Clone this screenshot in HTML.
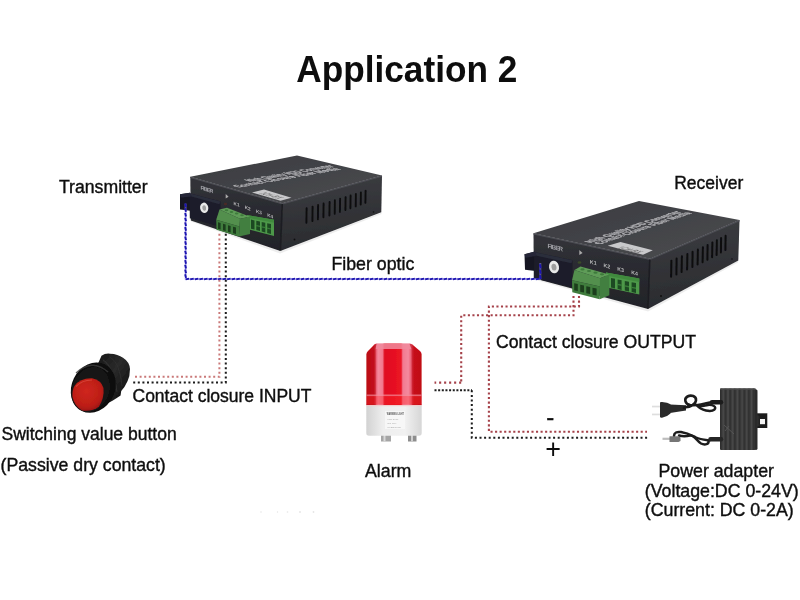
<!DOCTYPE html>
<html lang="en">
<head>
<meta charset="utf-8">
<title>Application 2</title>
<style>
html,body{margin:0;padding:0;background:#fff;}
body{width:800px;height:600px;overflow:hidden;position:relative;font-family:"Liberation Sans",Arial,sans-serif;}
svg{position:absolute;left:0;top:0;display:block;}
text{font-family:"Liberation Sans",Arial,sans-serif;fill:#111;}
.t{font-size:17.75px;stroke:#111;stroke-width:0.4px;}
.h{font-size:37px;font-weight:bold;fill:#0a0a0a;}
</style>
</head>
<body>
<svg width="800" height="600" viewBox="0 0 800 600">
<defs>
<filter id="soft" x="-5%" y="-5%" width="110%" height="110%"><feGaussianBlur stdDeviation="0.75"/></filter>
<filter id="soft2" x="-5%" y="-5%" width="110%" height="110%"><feGaussianBlur stdDeviation="0.45"/></filter>
</defs>
<rect width="800" height="600" fill="#fff"/>


<!-- DEVICE1 -->
<g id="dev1" filter="url(#soft)">
<defs>
<linearGradient id="d1top" x1="0" y1="0" x2="1" y2="1">
<stop offset="0" stop-color="#3a3b3f"/><stop offset="1" stop-color="#4b4c50"/>
</linearGradient>
<linearGradient id="d1right" x1="0" y1="0" x2="0.15" y2="1">
<stop offset="0" stop-color="#3d3e42"/><stop offset="1" stop-color="#2a2b2f"/>
</linearGradient>
<linearGradient id="d1front" x1="0" y1="0" x2="0" y2="1">
<stop offset="0" stop-color="#33343a"/><stop offset="0.45" stop-color="#2a2b30"/><stop offset="1" stop-color="#222328"/>
</linearGradient>
</defs>
<!-- shadow under -->
<polygon points="191,219 280,251 381.5,212.5 381.5,214 280,253.5 191,221.5" fill="#999" opacity=".18"/>
<!-- faces -->
<polygon points="190.3,176.8 297,155.4 382,175.6 282.5,203.2" fill="url(#d1top)"/>
<polygon points="190.3,176.8 282.5,203.2 280.3,251 190.8,220.6" fill="url(#d1front)"/>
<polygon points="282.5,203.2 382,175.6 381.3,212.3 280.3,251" fill="url(#d1right)"/>
<!-- edge highlights -->
<path d="M190.3 177.3 L282.5 203.8 L382 176.2" fill="none" stroke="#4d4e54" stroke-width="1.2"/>
<path d="M282.3 204 L280.4 250.5" fill="none" stroke="#1c1d21" stroke-width="1.6"/>
<!-- top label text -->
<g transform="matrix(0.985,-0.175,0.96,0.277,238.5,187.6)" style="font-size:10px;font-weight:bold" fill="#b0b0b4" stroke="#b0b0b4" stroke-width="0.5">
<text x="20" y="-8.4" style="fill:#b0b0b4" textLength="86" lengthAdjust="spacingAndGlyphs">High Quality HDD Converter</text>
<text x="0" y="0" style="fill:#b0b0b4" textLength="104" lengthAdjust="spacingAndGlyphs">Contact Closure Fiber Media</text>
</g>
<polygon points="252,192.4 264,189.6 291.5,197.7 280.5,200.7" fill="#c9c9cb"/>
<g transform="matrix(0.96,0.277,-0.98,0.2,258.5,193.4)"><text x="0" y="0" style="font-size:10px;font-weight:bold;fill:#777" textLength="20" lengthAdjust="spacingAndGlyphs">1CH-BX</text></g>
<!-- vents -->
<g stroke="#0d0d10" stroke-width="1.9" stroke-linecap="round">
<line x1="306.6" y1="208.2" x2="306.4" y2="222.8"/>
<line x1="312.6" y1="206.6" x2="312.4" y2="221.0"/>
<line x1="318.1" y1="205.0" x2="317.9" y2="219.2"/>
<line x1="323.6" y1="203.5" x2="323.4" y2="217.3"/>
<line x1="329.6" y1="201.9" x2="329.4" y2="215.5"/>
<line x1="334.9" y1="200.3" x2="334.7" y2="213.7"/>
<line x1="340.1" y1="198.7" x2="339.9" y2="211.9"/>
<line x1="345.6" y1="197.1" x2="345.4" y2="210.1"/>
<line x1="350.6" y1="195.5" x2="350.4" y2="208.3"/>
<line x1="355.9" y1="194.0" x2="355.7" y2="206.4"/>
<line x1="360.9" y1="192.4" x2="360.7" y2="204.6"/>
<line x1="365.6" y1="190.8" x2="365.4" y2="202.8"/>
</g>
<circle cx="294.5" cy="239.5" r="0.9" fill="#111"/>
<circle cx="373.5" cy="212" r="0.8" fill="#111"/>
<!-- fiber adapter -->
<polygon points="180,194.3 190,192.8 190.5,210.8 180,209.5" fill="#171824"/>
<polygon points="189.5,193.2 220.5,201.6 220.5,227 189.8,218.2" fill="#1c1d29"/>
<polygon points="189.5,193.2 220.5,201.6 219.5,204.2 191.5,196.6" fill="#2b2d3b"/>
<polygon points="180,194.3 190,192.8 191.5,196.6 181,197.5" fill="#262838"/>
<ellipse cx="204.2" cy="207.8" rx="4.1" ry="5.2" fill="#e9e9e9" transform="rotate(-10 204.2 207.8)"/>
<ellipse cx="204.2" cy="208" rx="1.9" ry="2.7" fill="#9e9e9e" transform="rotate(-10 204.2 208)"/>
<ellipse cx="225.5" cy="204" rx="1.6" ry="1.2" fill="#4a2c27"/>
<!-- front labels -->
<g transform="matrix(0.96,0.28,0,1,200.5,189.6)">
<text x="0" y="0" style="font-size:5.6px;fill:#a4a4aa;font-weight:bold" textLength="13.5">FIBER</text>
</g>
<polygon points="225.7,194 228.6,196.7 225.7,198.6" fill="#aaa"/>
<g transform="matrix(0.96,0.33,0,1,0,0)" style="font-size:4.8px;font-weight:bold">
<text x="243.3" y="124.7" style="font-size:4.8px;fill:#b5b5b8">K1</text>
<text x="255" y="124.7" style="font-size:4.8px;fill:#b5b5b8">K2</text>
<text x="266.7" y="124.7" style="font-size:4.8px;fill:#b5b5b8">K3</text>
<text x="278.4" y="124.7" style="font-size:4.8px;fill:#b5b5b8">K4</text>
</g>
<!-- green socket (rear) -->
<polygon points="247,215 274,219.8 274,236 247,229" fill="#4d9849"/>
<polygon points="247,215 274,219.8 274,222.8 247,217.6" fill="#3f8a3e"/>
<g fill="#1d4a21">
<polygon points="251,219.6 254.5,220.4 254.5,229.6 251,228.7"/>
<polygon points="256.3,220.8 260,221.6 260,231 256.3,230.1"/>
<polygon points="261.7,222 265.3,222.8 265.3,232.4 261.7,231.5"/>
<polygon points="267.2,223.2 271,224 271,233.9 267.2,233"/>
</g>
<g fill="#3f8a3e" opacity=".8">
<polygon points="256.3,225 260,225.8 260,227 256.3,226.2"/>
<polygon points="261.7,226.3 265.3,227.1 265.3,228.3 261.7,227.5"/>
<polygon points="267.2,227.6 271,228.4 271,229.6 267.2,228.8"/>
</g>
<!-- green plug -->
<polygon points="219.5,209.6 227,207.8 250,216.8 240,218.8" fill="#5f9c58"/>
<polygon points="216.2,219.8 219.5,209.6 240,218.8 239.5,226.5" fill="#528f4d"/>
<polygon points="216.2,219.8 239.5,226.5 239,236.6 216.5,229.8" fill="#3f7c3c"/>
<polygon points="240,218.8 250,216.8 250,234 239,236.6" fill="#437f40"/>
<g fill="#1a3d1d">
<polygon points="218,222.3 220.6,223.1 220.6,229.6 218,228.8"/>
<polygon points="223,223.8 225.6,224.6 225.6,231.1 223,230.3"/>
<polygon points="228,225.3 230.6,226.1 230.6,232.6 228,231.8"/>
<polygon points="233,226.8 236,227.6 236,234.1 233,233.3"/>
</g>
<g fill="#3d7a3b">
<ellipse cx="226.5" cy="210.3" rx="1.8" ry="1"/>
<ellipse cx="231.5" cy="211.9" rx="1.8" ry="1"/>
<ellipse cx="236.7" cy="213.5" rx="1.8" ry="1"/>
<ellipse cx="242" cy="215.2" rx="1.8" ry="1"/>
</g>

</g>

<!-- DEVICE2 -->
<g id="dev2" filter="url(#soft)">
<defs>
<linearGradient id="d2top" x1="0" y1="0" x2="1" y2="1">
<stop offset="0" stop-color="#3a3b3f"/><stop offset="1" stop-color="#4b4c50"/>
</linearGradient>
<linearGradient id="d2right" x1="0" y1="0" x2="0.15" y2="1">
<stop offset="0" stop-color="#3d3e42"/><stop offset="1" stop-color="#2a2b2f"/>
</linearGradient>
<linearGradient id="d2front" x1="0" y1="0" x2="0" y2="1">
<stop offset="0" stop-color="#33343a"/><stop offset="0.45" stop-color="#2a2b30"/><stop offset="1" stop-color="#222328"/>
</linearGradient>
</defs>
<polygon points="534,277 648,309 738,260.5 738,262.5 648,311.5 534,279.5" fill="#999" opacity=".18"/>
<!-- faces -->
<polygon points="533.5,233.3 639,201 739.5,220 650,258.8" fill="url(#d2top)"/>
<polygon points="533.5,233.3 650,258.8 648,309 533.8,278.3" fill="url(#d2front)"/>
<polygon points="650,258.8 739.5,220 738.3,260.5 648,309" fill="url(#d2right)"/>
<path d="M533.5 233.8 L650 259.4 L739.5 220.6" fill="none" stroke="#4d4e54" stroke-width="1.2"/>
<path d="M649.8 259.5 L648 308.5" fill="none" stroke="#1c1d21" stroke-width="1.6"/>
<!-- top label text -->
<g transform="matrix(0.948,-0.322,0.977,0.214,600,244.4)" style="font-size:10px;font-weight:bold" fill="#b0b0b4" stroke="#b0b0b4" stroke-width="0.5">
<text x="-1" y="-8.4" style="fill:#b0b0b4" textLength="96" lengthAdjust="spacingAndGlyphs">High Quality HDD Converter</text>
<text x="0" y="0" style="fill:#b0b0b4" textLength="97" lengthAdjust="spacingAndGlyphs">Contact Closure Fiber Media</text>
</g>
<polygon points="607.7,245.8 620.5,242 652.8,250.2 643,254.8" fill="#c9c9cb"/>
<g transform="matrix(0.97,0.246,-0.96,0.285,616,248.2)"><text x="0" y="0" style="font-size:10px;font-weight:bold;fill:#777" textLength="22" lengthAdjust="spacingAndGlyphs">1CH-BX</text></g>
<!-- vents -->
<g stroke="#0d0d10" stroke-width="2" stroke-linecap="round">
<line x1="671.4" y1="260.8" x2="671.1" y2="276.8"/>
<line x1="676.6" y1="258.5" x2="676.4" y2="274.4"/>
<line x1="681.9" y1="256.3" x2="681.6" y2="271.9"/>
<line x1="687.4" y1="254.0" x2="687.1" y2="269.5"/>
<line x1="692.6" y1="251.7" x2="692.4" y2="267.1"/>
<line x1="697.9" y1="249.4" x2="697.6" y2="264.6"/>
<line x1="702.9" y1="247.2" x2="702.6" y2="262.2"/>
<line x1="707.6" y1="244.9" x2="707.4" y2="259.7"/>
<line x1="712.4" y1="242.6" x2="712.1" y2="257.3"/>
<line x1="716.9" y1="240.3" x2="716.6" y2="254.9"/>
<line x1="721.1" y1="238.1" x2="720.9" y2="252.4"/>
<line x1="725.6" y1="235.8" x2="725.4" y2="250.0"/>
</g>
<circle cx="661" cy="296" r="1" fill="#111"/>
<circle cx="732" cy="259" r="0.8" fill="#111"/>
<!-- fiber adapter -->
<polygon points="524.5,254.3 535,251.5 535.5,271 525,269.8" fill="#171824"/>
<polygon points="534,252 572.5,260.3 572.5,287.5 534.3,278.3" fill="#1c1d29"/>
<polygon points="534,252 572.5,260.3 571.5,263.3 536.5,255.8" fill="#2b2d3b"/>
<polygon points="524.5,254.3 535,251.5 536.5,255.8 525.5,257.8" fill="#262838"/>
<ellipse cx="554" cy="267" rx="5" ry="6.3" fill="#e9e9e9" transform="rotate(-10 554 267)"/>
<ellipse cx="554" cy="267.2" rx="2.5" ry="3.4" fill="#9e9e9e" transform="rotate(-10 554 267.2)"/>
<ellipse cx="579.5" cy="262.5" rx="1.8" ry="1.3" fill="#3a4a2a"/>
<!-- front labels -->
<g transform="matrix(0.975,0.22,0,1,547.5,248)">
<text x="0" y="0" style="font-size:6.4px;fill:#a4a4aa;font-weight:bold" textLength="16">FIBER</text>
</g>
<polygon points="579.3,250 582.6,253 579.3,255" fill="#aaa"/>
<g transform="matrix(0.975,0.25,0,1,0,0)" style="font-weight:bold">
<text x="605" y="112.2" style="font-size:5.4px;fill:#b5b5b8">K1</text>
<text x="619" y="112.2" style="font-size:5.4px;fill:#b5b5b8">K2</text>
<text x="633" y="112.2" style="font-size:5.4px;fill:#b5b5b8">K3</text>
<text x="647.5" y="112.2" style="font-size:5.4px;fill:#b5b5b8">K4</text>
</g>
<!-- green socket (rear) -->
<polygon points="606,272.6 639.3,278.6 639.3,294.4 606,287.2" fill="#4d9849"/>
<polygon points="606,272.6 639.3,278.6 639.3,282 606,275.4" fill="#3f8a3e"/>
<g fill="#1d4a21">
<polygon points="611,278 615,278.8 615,288.4 611,287.5"/>
<polygon points="617.6,279.4 621.6,280.2 621.6,289.9 617.6,289"/>
<polygon points="624.8,280.9 629,281.7 629,291.5 624.8,290.6"/>
<polygon points="631.6,282.3 636,283.1 636,293 631.6,292.1"/>
</g>
<g fill="#3f8a3e" opacity=".8">
<polygon points="617.6,283.8 621.6,284.6 621.6,285.9 617.6,285.1"/>
<polygon points="624.8,285.3 629,286.1 629,287.4 624.8,286.6"/>
<polygon points="631.6,286.8 636,287.6 636,288.9 631.6,288.1"/>
</g>
<!-- green plug -->
<polygon points="574.5,270 580.5,266.6 609.3,274.5 600,278.2" fill="#5f9c58"/>
<polygon points="572,280.2 574.5,270 600,278.2 600,286.5" fill="#528f4d"/>
<polygon points="572,280.2 600,286.5 599.7,299.2 572.3,292.3" fill="#3f7c3c"/>
<polygon points="600,278.2 609.3,274.5 609.3,295.2 599.7,299.2" fill="#437f40"/>
<g fill="#1a3d1d">
<polygon points="574.2,283.2 577.8,284 577.8,291 574.2,290.2"/>
<polygon points="580.2,284.7 584,285.5 584,292.5 580.2,291.7"/>
<polygon points="586.3,286.2 590.2,287 590.2,294 586.3,293.2"/>
<polygon points="592.5,287.7 596.6,288.5 596.6,295.5 592.5,294.7"/>
</g>
<g fill="#3d7a3b">
<ellipse cx="582.5" cy="269.4" rx="2.1" ry="1.1"/>
<ellipse cx="589" cy="271" rx="2.1" ry="1.1"/>
<ellipse cx="595.5" cy="272.7" rx="2.1" ry="1.1"/>
<ellipse cx="602" cy="274.3" rx="2.1" ry="1.1"/>
</g>

</g>

<!-- LINES -->
<g id="lines" fill="none" filter="url(#soft2)">
<g stroke="#8f8be6" stroke-width="2" opacity=".55" stroke-linejoin="round">
<path d="M185.6 203.5 V279 H540.3 V263"/>
</g>
<g stroke="#1f14b0" stroke-width="1.9">
<path d="M185.15 203.50L186.05 207.09M185.15 208.22L186.05 211.81M185.15 212.94L186.05 216.53M185.15 217.66L186.05 221.25M185.15 222.38L186.05 225.97M185.15 227.09L186.05 230.68M185.15 231.81L186.05 235.40M185.15 236.53L186.05 240.12M185.15 241.25L186.05 244.84M185.15 245.97L186.05 249.56M185.15 250.69L186.05 254.28M185.15 255.41L186.05 259.00M185.15 260.12L186.05 263.72M185.15 264.84L186.05 268.43M185.15 269.56L186.05 273.15M185.15 274.28L186.05 277.87M185.60 279.45L189.10 278.55M190.21 279.45L193.71 278.55M194.81 279.45L198.32 278.55M199.42 279.45L202.92 278.55M204.03 279.45L207.53 278.55M208.63 279.45L212.14 278.55M213.24 279.45L216.74 278.55M217.85 279.45L221.35 278.55M222.45 279.45L225.96 278.55M227.06 279.45L230.56 278.55M231.66 279.45L235.17 278.55M236.27 279.45L239.78 278.55M240.88 279.45L244.38 278.55M245.48 279.45L248.99 278.55M250.09 279.45L253.60 278.55M254.70 279.45L258.20 278.55M259.30 279.45L262.81 278.55M263.91 279.45L267.42 278.55M268.52 279.45L272.02 278.55M273.12 279.45L276.63 278.55M277.73 279.45L281.23 278.55M282.34 279.45L285.84 278.55M286.94 279.45L290.45 278.55M291.55 279.45L295.05 278.55M296.16 279.45L299.66 278.55M300.76 279.45L304.27 278.55M305.37 279.45L308.87 278.55M309.98 279.45L313.48 278.55M314.58 279.45L318.09 278.55M319.19 279.45L322.69 278.55M323.79 279.45L327.30 278.55M328.40 279.45L331.91 278.55M333.01 279.45L336.51 278.55M337.61 279.45L341.12 278.55M342.22 279.45L345.73 278.55M346.83 279.45L350.33 278.55M351.43 279.45L354.94 278.55M356.04 279.45L359.55 278.55M360.65 279.45L364.15 278.55M365.25 279.45L368.76 278.55M369.86 279.45L373.36 278.55M374.47 279.45L377.97 278.55M379.07 279.45L382.58 278.55M383.68 279.45L387.18 278.55M388.29 279.45L391.79 278.55M392.89 279.45L396.40 278.55M397.50 279.45L401.00 278.55M402.11 279.45L405.61 278.55M406.71 279.45L410.22 278.55M411.32 279.45L414.82 278.55M415.92 279.45L419.43 278.55M420.53 279.45L424.04 278.55M425.14 279.45L428.64 278.55M429.74 279.45L433.25 278.55M434.35 279.45L437.86 278.55M438.96 279.45L442.46 278.55M443.56 279.45L447.07 278.55M448.17 279.45L451.68 278.55M452.78 279.45L456.28 278.55M457.38 279.45L460.89 278.55M461.99 279.45L465.49 278.55M466.60 279.45L470.10 278.55M471.20 279.45L474.71 278.55M475.81 279.45L479.31 278.55M480.42 279.45L483.92 278.55M485.02 279.45L488.53 278.55M489.63 279.45L493.13 278.55M494.24 279.45L497.74 278.55M498.84 279.45L502.35 278.55M503.45 279.45L506.95 278.55M508.05 279.45L511.56 278.55M512.66 279.45L516.17 278.55M517.27 279.45L520.77 278.55M521.87 279.45L525.38 278.55M526.48 279.45L529.99 278.55M531.09 279.45L534.59 278.55M535.69 279.45L539.20 278.55M540.75 279.00L539.85 274.94M540.75 273.67L539.85 269.61M540.75 268.33L539.85 264.28"/>
</g>
<g stroke="#c46a6a" stroke-width="2" stroke-dasharray="2 2.6" opacity=".9">
<path d="M219.4 233.8 V376.8 H132.5"/>
</g>
<g stroke="#a5424a" stroke-width="2.1" stroke-dasharray="2.1 2.45">
<path d="M579 296 V306.5 H488.9 V431.8 H647"/>
<path d="M573.5 296 V315.3 H461.2 V382.6"/>
</g>
<g stroke="#a5424a" stroke-width="2.1" stroke-dasharray="2.1 2.9">
<path d="M461.2 382.6 H434.5"/>
</g>
<g stroke="#1a1a1a" stroke-width="2" stroke-dasharray="2 2.6">
<path d="M225.8 233.8 V382.4 H132.5"/>
<path d="M471.8 390.3 V437.8 H648"/>
</g>
<g stroke="#1a1a1a" stroke-width="2" stroke-dasharray="2 1.65">
<path d="M434.5 390.3 H472"/>
</g>

</g>

<!-- BUTTON -->
<g id="button" filter="url(#soft)">
<defs>
<radialGradient id="bred" cx="0.45" cy="0.4" r="0.65">
<stop offset="0" stop-color="#cf261d"/><stop offset="0.7" stop-color="#bd1e17"/><stop offset="1" stop-color="#96140f"/>
</radialGradient>
<linearGradient id="bbody" x1="0" y1="0" x2="1" y2="1">
<stop offset="0" stop-color="#141414"/><stop offset="0.45" stop-color="#2a2a2a"/><stop offset="1" stop-color="#0a0a0a"/>
</linearGradient>
</defs>
<!-- rear barrel -->
<path d="M94 366 L98.5 362.5 L101.5 355.8 Q105 353.2 110 353.7 Q118 354 123 357.8 Q129.5 362 130 369 Q130 376 127.6 381 Q125 387 121.2 391 L120.6 395.5 L116 398.5 L112 401 L106 404 Z" fill="url(#bbody)"/>
<path d="M103 360 Q113 366 117 392" fill="none" stroke="#3a3a3a" stroke-width="1.2" opacity=".6"/>
<path d="M110 357 Q120 363 122 386" fill="none" stroke="#333" stroke-width="1" opacity=".6"/>
<!-- bezel -->
<ellipse cx="93.3" cy="387.6" rx="21.6" ry="26" transform="rotate(26 93.3 387.6)" fill="#0d0d0d"/>
<ellipse cx="90.5" cy="389.5" rx="18.5" ry="23" transform="rotate(24 90.5 389.5)" fill="#181818"/>
<path d="M76 373 Q92 358 108 372" fill="none" stroke="#3b3b3b" stroke-width="1.3" opacity=".8"/>
<!-- red cap -->
<path d="M74.5 386 Q80 378 92 378.3 Q101 380 103.5 388 Q104.5 398 99 406.5 Q92 412 82 410.5 Q74.5 406 72.5 397 Q72 390 74.5 386 Z" fill="url(#bred)"/>
<path d="M76 386.5 Q82 380 92 380" fill="none" stroke="#e2564a" stroke-width="1.2" opacity=".6"/>

</g>

<!-- ALARM -->
<g id="alarm" filter="url(#soft)">
<defs>
<linearGradient id="ared" x1="0" y1="0" x2="1" y2="0">
<stop offset="0" stop-color="#c20e1a"/>
<stop offset="0.13" stop-color="#d4111e"/>
<stop offset="0.17" stop-color="#e8566c"/>
<stop offset="0.21" stop-color="#f48a9e"/>
<stop offset="0.29" stop-color="#f27a90"/>
<stop offset="0.33" stop-color="#e01022"/>
<stop offset="0.5" stop-color="#e60f20"/>
<stop offset="0.63" stop-color="#ec1626"/>
<stop offset="0.66" stop-color="#f27a90"/>
<stop offset="0.76" stop-color="#f48a9e"/>
<stop offset="0.82" stop-color="#e8566c"/>
<stop offset="0.86" stop-color="#d4111e"/>
<stop offset="1" stop-color="#c8101c"/>
</linearGradient>
<linearGradient id="abase" x1="0" y1="0" x2="1" y2="0">
<stop offset="0" stop-color="#d2d2d2"/><stop offset="0.3" stop-color="#eeeeee"/><stop offset="0.7" stop-color="#f1f1f1"/><stop offset="1" stop-color="#d6d6d6"/>
</linearGradient>
</defs>
<!-- feet -->
<rect x="381" y="435" width="10" height="6.5" fill="#a5a5a5"/>
<rect x="383.5" y="435" width="2" height="6.5" fill="#d8d8d8"/>
<rect x="408" y="435" width="8.5" height="6.5" fill="#8d8d8d"/>
<rect x="411" y="435" width="2" height="6.5" fill="#cfcfcf"/>
<!-- base -->
<path d="M366.3 404 H421.7 V433 Q421.7 435.8 419 435.8 H369 Q366.3 435.8 366.3 433 Z" fill="url(#abase)"/>
<rect x="366.3" y="404" width="55.4" height="2.2" fill="#f3c7c7" opacity=".8"/>
<rect x="385" y="411" width="20" height="18" fill="#f7f7f7"/>
<text x="386.8" y="415.3" style="font-size:2.6px;font-weight:bold;fill:#555" textLength="17" lengthAdjust="spacingAndGlyphs">WARNING LIGHT</text>
<text x="387.5" y="420" style="font-size:2.4px;fill:#aaa" textLength="11" lengthAdjust="spacingAndGlyphs">LTE-5061</text>
<text x="387.5" y="424" style="font-size:2.4px;fill:#aaa" textLength="9" lengthAdjust="spacingAndGlyphs">DC 12V</text>
<text x="387.5" y="427.8" style="font-size:2.4px;fill:#999" textLength="13" lengthAdjust="spacingAndGlyphs">MADE IN CN</text>
<!-- dome -->
<path d="M366.5 354 Q366.5 352.5 368 351 L374.5 344.5 Q375.5 343.5 377 343.5 H409.5 Q411 343.5 412.3 344.5 L420 351 Q421.5 352.5 421.5 354 V405 H366.5 Z" fill="url(#ared)"/>
<path d="M376.5 343.8 H409.5 L411.5 349 H375.5 Z" fill="#f08a9c" opacity=".85"/>
<path d="M366.5 354 L374.5 344.5 L376.5 343.8 L375.5 349 L375.8 405 H366.5 Z" fill="#b50c17" opacity=".55"/>
<path d="M421.5 354 L412.3 344.5 L409.5 343.8 L411.5 349 L411.8 405 H421.5 Z" fill="#b50c17" opacity=".45"/>
<rect x="366.5" y="394.5" width="55" height="1.6" fill="#f48a98" opacity=".7"/>
<rect x="366.5" y="396" width="55" height="8.5" fill="#ff2a2a" opacity=".35"/>

</g>

<!-- ADAPTER -->
<g id="adapter" filter="url(#soft)">
<defs>
<pattern id="ribs" x="720" y="0" width="4.7" height="10" patternUnits="userSpaceOnUse">
<rect width="4.7" height="10" fill="#3d3d3d"/>
<rect x="0" width="1.5" height="10" fill="#2f2f2f"/>
<rect x="2.7" width="1.2" height="10" fill="#494949"/>
</pattern>
</defs>
<!-- bracket -->
<path d="M756 413.3 H767.3 V428 H756 Z" fill="#1c1c1c"/>
<rect x="760" y="419" width="5" height="5.2" fill="#f4f4f4"/>
<rect x="756" y="415.5" width="3.5" height="10.5" fill="#2a2a2a"/>
<!-- body -->
<path d="M720 389.3 Q720 388.3 721 388.3 H754.3 Q757.3 389 757.3 392 V449 Q757.3 450 756.3 450 H721 Q720 450 720 449 Z" fill="url(#ribs)"/>
<rect x="754.5" y="390" width="2.8" height="59" fill="#2b2b2b"/>
<path d="M720 389.3 H756" stroke="#4c4c4c" stroke-width="1" fill="none"/>
<path d="M724 425 L734 434 M729 426 L725 431" stroke="#555" stroke-width="1" fill="none"/>
<!-- AC cable -->
<g fill="none" stroke="#1b1b1b" stroke-linecap="round" stroke-linejoin="round">
<path d="M670 404.6 L686 405.3 L686 410.6 L670 413 Z" fill="#2a2a2a" stroke="none"/>
<path d="M684 407.5 C689 407 695.5 405 696 400.5 C696.5 396 691 394.5 687.5 396.5 C684 398.5 684.5 403.5 690 405 C697 406.5 706 402.5 714 402" stroke-width="2.6"/>
<path d="M697 405.5 C701 410.5 711 412.5 714.5 409.5 C717 407 713 404.5 708 405 C704 405.5 701 407 697.5 405.5" stroke-width="2.4"/>
<path d="M712 402.3 H721" stroke-width="4.6"/>
</g>
<path d="M660 402.6 Q660.3 401.6 662 402 L667 402.8 L670.5 404.2 V413.4 L667 416 L662 417.8 Q660.3 418 660 417 Z" fill="#2a2a2a"/>
<rect x="652" y="405.7" width="8" height="1.7" fill="#dedede"/>
<rect x="652" y="413.6" width="8" height="1.7" fill="#dedede"/>
<!-- DC cable -->
<g fill="none" stroke="#1b1b1b" stroke-linecap="round" stroke-linejoin="round">
<path d="M674 436 C674 432.5 677 431.5 681 432 C688 433 692 435.5 696 437.5 C700 439.5 706 440 709.5 440.5" stroke-width="2.5"/>
<path d="M679 435.5 C684 437 688 436 691 435.5 C695 436 697 441 701 443.5 C705 445.5 709 444 708.5 441.5" stroke-width="2.4"/>
<path d="M710.5 439.3 H721" stroke-width="4.6" stroke="#262626"/>
</g>
<rect x="662.5" y="437.7" width="8" height="2.2" fill="#bdbdbd"/>
<path d="M669.5 436.3 H678.5 L680.5 437.3 V441 L678.5 442 H669.5 Z" fill="#767676"/>

</g>

<g id="specks" fill="#cfcfcf" opacity=".55" filter="url(#soft)">
<circle cx="261" cy="512" r="0.8"/><circle cx="277.5" cy="512" r="0.7"/><circle cx="287.5" cy="512" r="0.8"/><circle cx="300" cy="512" r="0.9"/><circle cx="313.5" cy="512" r="0.9"/>
</g>

<!-- TEXT -->
<g id="labels" filter="url(#soft2)">
<text class="h" x="296.3" y="81.6" textLength="221" lengthAdjust="spacingAndGlyphs">Application 2</text>
<text class="t" x="59" y="192.6" style="font-size:17.65px">Transmitter</text>
<text class="t" x="674.2" y="188.8" style="font-size:17.5px">Receiver</text>
<text class="t" x="331.4" y="270">Fiber optic</text>
<text class="t" x="496" y="348" style="font-size:17.65px">Contact closure OUTPUT</text>
<text class="t" x="132.5" y="402.2" style="font-size:17.5px">Contact closure INPUT</text>
<text class="t" x="1.5" y="439.8" style="font-size:17.5px">Switching value button</text>
<text class="t" x="0.6" y="471" style="font-size:17.7px">(Passive dry contact)</text>
<text class="t" x="365" y="476.6">Alarm</text>
<text class="t" x="658.5" y="476.5">Power adapter</text>
<text class="t" x="644.8" y="496.5">(Voltage:DC 0-24V)</text>
<text class="t" x="644.8" y="515.7">(Current: DC 0-2A)</text>
<text class="t" x="546.2" y="425.1" style="font-size:24px">-</text>
<text class="t" x="545.2" y="457.9" style="font-size:27px;stroke-width:0">+</text>
</g>
</svg>
</body>
</html>
